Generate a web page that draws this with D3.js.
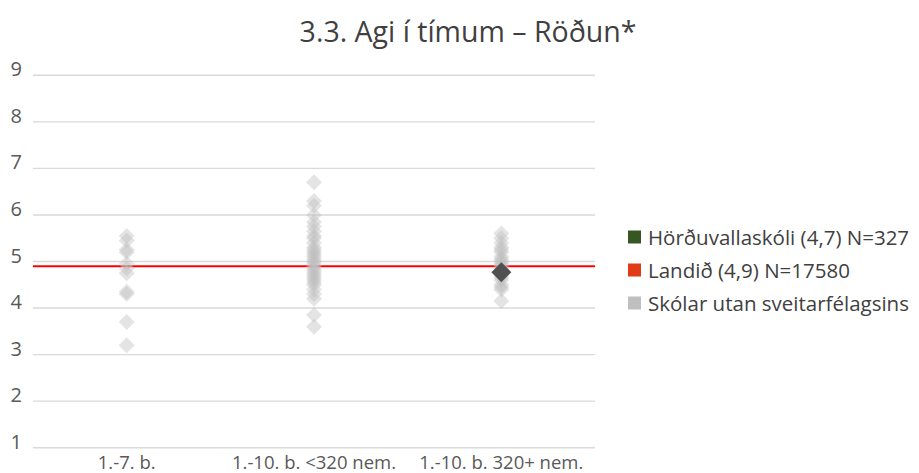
<!DOCTYPE html>
<html>
<head>
<meta charset="utf-8">
<script src="https://cdn.jsdelivr.net/npm/d3@7"></script>
<style>
  html, body { margin: 0; padding: 0; background: #fff; }
  svg { display: block; font-family: "Open Sans", Lato, sans-serif; }
</style>
</head>
<body>
<svg id="chart" width="919" height="473"></svg>
<script>
const title = "3.3. Agi í tímum – Röðun*";
const categories = ["1.-7. b.", "1.-10. b. <320 nem.", "1.-10. b. 320+ nem."];
const yTicks = [1, 2, 3, 4, 5, 6, 7, 8, 9];

const otherSchools1 = [5.55, 5.45, 5.25, 5.2, 4.95, 4.85, 4.75, 4.35, 4.3, 3.7, 3.2];
const otherSchools2 = [6.7, 6.3, 6.2, 6.0, 5.85, 5.75, 5.65, 5.55, 5.5, 5.4, 5.3, 5.25, 5.2, 5.15, 5.1,
  5.05, 5.0, 4.95, 4.9, 4.85, 4.8, 4.75, 4.7, 4.65, 4.6, 4.55, 4.5, 4.4, 4.3, 4.2, 3.85, 3.6];
const otherSchools3 = [5.6, 5.5, 5.4, 5.3, 5.25, 5.2, 5.1, 5.05, 5.0, 4.95, 4.9, 4.85, 4.8, 4.7,
  4.65, 4.6, 4.5, 4.45, 4.4, 4.15];
const otherSchools = [otherSchools1, otherSchools2, otherSchools3];

const schoolCategory = "1.-10. b. 320+ nem.";
const schoolValue = 4.77;
const nationalValue = 4.9;

const legendLabels = ["Hörðuvallaskóli (4,7) N=327", "Landið (4,9) N=17580", "Skólar utan sveitarfélagsins"];
const legendColors = ["#375623", "#e03a16", "#bfbfbf"];

(function () {
const svg = d3.select("#chart");
const mLeft = 33, mRight = 595, mTop = 75.3, mBottom = 447.7;

const x = d3.scaleBand().domain(categories).range([mLeft, mRight]);
const y = d3.scaleLinear().domain([1, 9]).range([mBottom, mTop]);

// title
svg.append("text").attr("x", 468).attr("y", 42).attr("text-anchor", "middle")
  .attr("font-size", 28.5).attr("fill", "#404040").text(title);

// gridlines
svg.append("g").selectAll("line").data(yTicks).join("line")
  .attr("x1", mLeft).attr("x2", mRight)
  .attr("y1", d => y(d)).attr("y2", d => y(d))
  .attr("stroke", "#d9d9d9").attr("stroke-width", 1.4);

// y labels
svg.append("g").selectAll("text").data(yTicks).join("text")
  .attr("x", 22).attr("y", d => y(d) + 1).attr("text-anchor", "end")
  .attr("font-size", 20).attr("fill", "#595959").text(d => d);

// x labels
svg.append("g").selectAll("text").data(categories).join("text")
  .attr("x", d => x(d) + x.bandwidth() / 2).attr("y", 469).attr("text-anchor", "middle")
  .attr("font-size", 18.5).attr("fill", "#595959").text(d => d);

// national line
svg.append("line").attr("x1", mLeft).attr("x2", mRight)
  .attr("y1", y(nationalValue)).attr("y2", y(nationalValue))
  .attr("stroke", "#ff0000").attr("stroke-width", 2);

// other schools
const pts = [];
categories.forEach((c, i) => otherSchools[i].forEach(v => pts.push({c, v})));
const half = 8;
svg.append("g").selectAll("path").data(pts).join("path")
  .attr("d", `M0,${-half}L${half},0L0,${half}L${-half},0Z`)
  .attr("transform", d => `translate(${x(d.c) + x.bandwidth() / 2},${y(d.v)})`)
  .attr("fill", "#bfbfbf").attr("fill-opacity", 0.42);

// school
const hs = 10;
svg.append("path")
  .attr("d", `M0,${-hs}L${hs},0L0,${hs}L${-hs},0Z`)
  .attr("transform", `translate(${x(schoolCategory) + x.bandwidth() / 2},${y(schoolValue)})`)
  .attr("fill", "#505050");

// legend
const lg = svg.append("g").selectAll("g").data(legendLabels).join("g")
  .attr("transform", (d, i) => `translate(628,${237 + i * 33})`);
lg.append("rect").attr("x", 0).attr("y", -6.5).attr("width", 13).attr("height", 13)
  .attr("fill", (d, i) => legendColors[i]);
lg.append("text").attr("x", 20).attr("y", 7.5).attr("font-size", 20.5).attr("fill", "#404040").text(d => d);
})();
</script>
</body>
</html>
